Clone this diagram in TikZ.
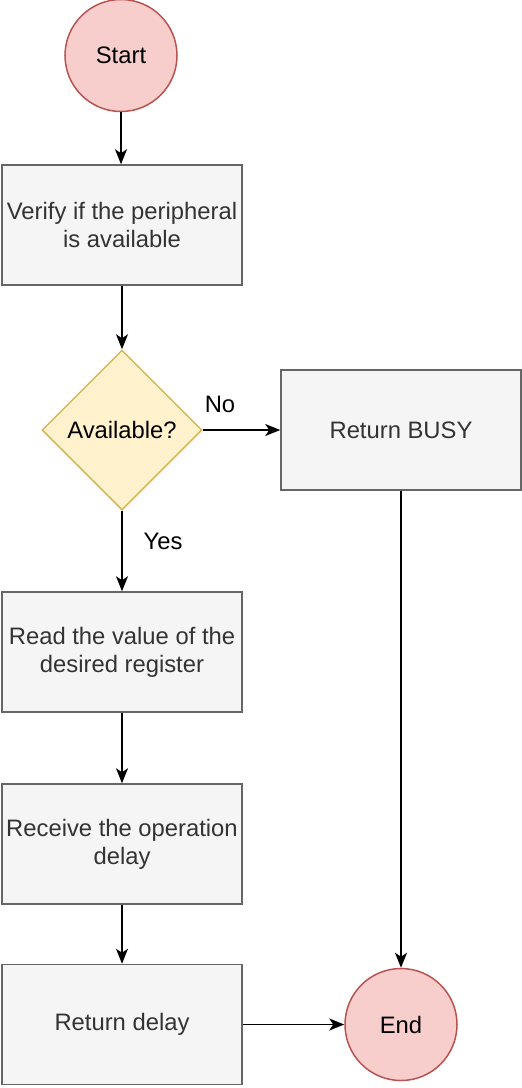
\documentclass[tikz,border=0pt]{standalone}
\usepackage{fontspec}
\setmainfont{Liberation Sans}
\usetikzlibrary{shapes.geometric,arrows.meta}
\definecolor{redfill}{HTML}{F8CECC}
\definecolor{redline}{HTML}{B85450}
\definecolor{grayfill}{HTML}{F5F5F5}
\definecolor{grayline}{HTML}{666666}
\definecolor{graytext}{HTML}{333333}
\definecolor{yelfill}{HTML}{FFF2CC}
\definecolor{yelline}{HTML}{D6B656}
\begin{document}
\begin{tikzpicture}[x=1pt,y=-1pt,
  every node/.style={font=\fontsize{23.8}{28}\selectfont},
  term/.style={circle,draw=redline,fill=redfill,line width=1.5pt,minimum size=112pt,inner sep=0pt,text=black},
  procbox/.style={rectangle,draw=grayline,fill=grayfill,line width=1.5pt,minimum width=240pt,minimum height=120pt,inner sep=0pt,text=graytext,align=center},
  decision/.style={diamond,draw=yelline,fill=yelfill,line width=1.5pt,minimum width=160pt,minimum height=160pt,inner sep=0pt,aspect=1,text=black},
  flow/.style={-{Stealth[length=15pt,width=12pt,inset=4pt]},line width=1.6pt,black},
  lbl/.style={text=black,inner sep=0pt}]
\useasboundingbox (0,0) rectangle (522,1088);
\node[term] (start) at (121,55.5) {Start};
\node[procbox] (verify) at (122,225) {Verify if the peripheral\\is available};
\node[decision] (avail) at (122,430) {Available?};
\node[procbox] (busy) at (401,430) {Return BUSY};
\node[procbox] (read) at (122,652) {Read the value of the\\desired register};
\node[procbox] (recv) at (122,844) {Receive the operation\\delay};
\node[procbox] (retd) at (122,1024.5) {Return delay};
\node[term] (end) at (401,1024.5) {End};
\node[lbl] (no) at (220,404) {No};
\node[lbl] (yes) at (163,541) {Yes};
\draw[flow] (start) -- (start |- verify.north);
\draw[flow] (verify) -- (avail);
\draw[flow] (avail.east) -- (busy.west);
\draw[flow] (avail) -- (read);
\draw[flow] (read) -- (recv);
\draw[flow] (recv) -- (retd);
\draw[flow] (retd) -- (end);
\draw[flow] (busy.south) -- (end.north);
\end{tikzpicture}
\end{document}
